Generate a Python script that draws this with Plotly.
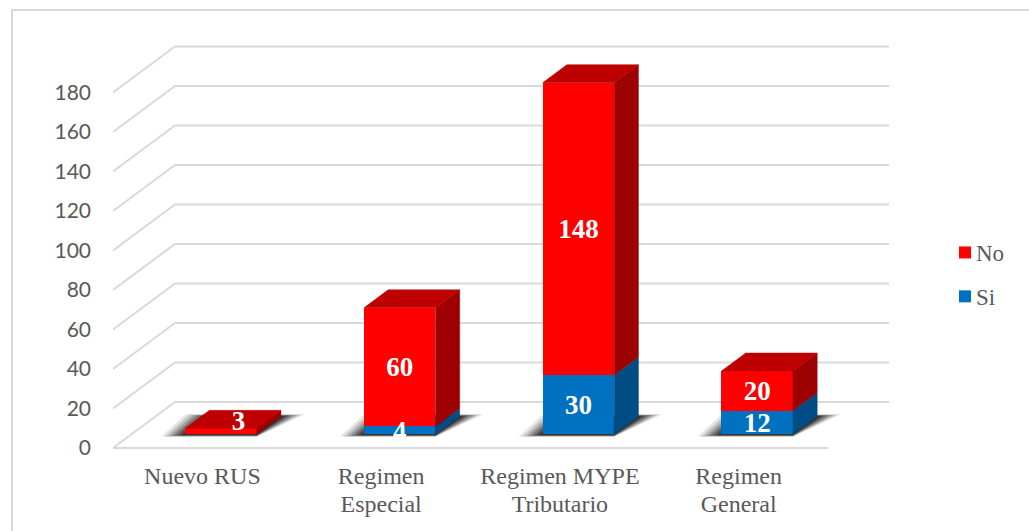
import plotly.graph_objects as go

# ---- data ----
categories = ["Nuevo RUS", "Regimen<br>Especial", "Regimen MYPE<br>Tributario", "Regimen<br>General"]
si_values = [0, 4, 30, 12]
no_values = [3, 60, 148, 20]
y_ticks = [0, 20, 40, 60, 80, 100, 120, 140, 160, 180]

# ---- scale helpers (pixels per data unit) ----
W, H = 1029, 531
L, R, T, B = 113, 889, 41, 452
Y0 = 448
PX = 178.75
PY = 1.975
DX = 62 / PX          # full floor depth in axis units
DY = 46 / PY
BAR_START, BAR_DEPTH = 0.3, 0.39
BAR_W = 0.4

GRID = "#D9D9D9"
TXT = "#595959"
RED, RED_TOP, RED_SIDE = "#FF0000", "#BE0000", "#9C0000"
BLUE, BLUE_TOP, BLUE_SIDE = "#0070C0", "#005A9A", "#004C84"

n = len(categories)
bx = [i + BAR_START * DX for i in range(n)]
base_y = BAR_START * DY
ddx, ddy = BAR_DEPTH * DX, BAR_DEPTH * DY


def path(points):
    return "M" + "L".join(f"{x},{y}" for x, y in points) + "Z"


def open_path(points):
    return "M" + "L".join(f"{x},{y}" for x, y in points)


shapes = []
# chart frame
shapes.append(dict(type="path", xref="paper", yref="paper", layer="below",
                   path=open_path([((12 - L) / (R - L), (B - 540) / (B - T)),
                                   ((12 - L) / (R - L), (B - 10) / (B - T)),
                                   ((1040 - L) / (R - L), (B - 10) / (B - T))]),
                   line=dict(color=GRID, width=2)))
# walls: side diagonal + back line for each tick
for v in y_ticks:
    shapes.append(dict(type="path", xref="x", yref="y", layer="below",
                       path=open_path([(-0.5, v), (-0.5 + DX, v + DY), (n - 0.5 + DX, v + DY)]),
                       line=dict(color=GRID, width=2)))
shapes.append(dict(type="path", xref="x", yref="y", layer="below",
                   path=open_path([(-0.5, 0), (n - 0.5, 0)]),
                   line=dict(color=GRID, width=2.2)))
# soft floor shadows, layered
for i in range(n):
    left = bx[i] - BAR_W / 2
    right = bx[i] + BAR_W / 2
    for w_px, alpha in [(24, 0.1), (20, 0.15), (16, 0.2), (12, 0.25), (8, 0.3), (4, 0.35)]:
        w = w_px / PX
        low = base_y - (0.6 + w_px / 12) / PY
        high = base_y + ddy + (w_px / 12) / PY
        shapes.append(dict(type="path", xref="x", yref="y", layer="below",
                           path=path([(left - w, low), (right, low),
                                      (right + ddx + w, high), (left + ddx - w, high)]),
                           fillcolor=f"rgba(0,0,0,{alpha})", line=dict(width=0)))

fig = go.Figure()

# front faces are real bars
fig.add_trace(go.Bar(name="No", x=bx, y=no_values,
                     base=[base_y + s for s in si_values], width=BAR_W,
                     marker=dict(color=RED, line=dict(width=0)),
                     legendgroup="no", hoverinfo="skip"))
fig.add_trace(go.Bar(name="Si", x=bx, y=si_values,
                     base=[base_y] * n, width=BAR_W,
                     marker=dict(color=BLUE, line=dict(width=0)),
                     legendgroup="si", hoverinfo="skip"))


def face(points, color):
    xs = [p[0] for p in points] + [points[0][0]]
    ys = [p[1] for p in points] + [points[0][1]]
    fig.add_trace(go.Scatter(x=xs, y=ys, mode="lines", fill="toself", fillcolor=color,
                             line=dict(width=0.5, color=color), showlegend=False,
                             hoverinfo="skip"))


# side and top faces
for i in range(n):
    rgt = bx[i] + BAR_W / 2
    lft = bx[i] - BAR_W / 2
    y1 = base_y + si_values[i]
    y2 = y1 + no_values[i]
    if si_values[i] > 0:
        face([(rgt, base_y), (rgt + ddx, base_y + ddy), (rgt + ddx, y1 + ddy), (rgt, y1)], BLUE_SIDE)
    face([(rgt, y1), (rgt + ddx, y1 + ddy), (rgt + ddx, y2 + ddy), (rgt, y2)], RED_SIDE)
    face([(lft, y2), (rgt, y2), (rgt + ddx, y2 + ddy), (lft + ddx, y2 + ddy)], RED_TOP)

# value labels
TEXT_DROP = 2.5 / PY
lab_x, lab_y, lab_t = [], [], []
for i in range(n):
    if si_values[i] > 0:
        lab_x.append(bx[i])
        lab_y.append(base_y + si_values[i] / 2 - TEXT_DROP)
        lab_t.append(str(si_values[i]))
    nudge_x = 17.5 / PX if i == 0 else 0
    nudge_y = 10 / PY if i == 0 else 0
    lab_x.append(bx[i] + nudge_x)
    lab_y.append(base_y + si_values[i] + no_values[i] / 2 + nudge_y - TEXT_DROP)
    lab_t.append(str(no_values[i]))
fig.add_trace(go.Scatter(x=lab_x, y=lab_y, text=lab_t, mode="text", showlegend=False,
                         textposition="middle center", cliponaxis=False, hoverinfo="skip",
                         textfont=dict(family="Liberation Serif", size=27, color="white",
                                       weight="bold")))

fig.update_layout(
    width=W, height=H, autosize=False,
    margin=dict(l=L, r=W - R, t=T, b=H - B, pad=0, autoexpand=False),
    paper_bgcolor="white", plot_bgcolor="rgba(0,0,0,0)",
    barmode="overlay", bargap=0, shapes=shapes, hovermode=False,
    showlegend=True,
    legend=dict(x=(945 - L) / (R - L), xanchor="left", y=(B - 274.5) / (B - T), yanchor="middle",
                font=dict(family="Liberation Serif", size=23, color=TXT),
                bgcolor="rgba(0,0,0,0)", tracegroupgap=11, itemclick=False, itemdoubleclick=False),
    xaxis=dict(range=[-0.5, (R - L) / PX - 0.5], tickmode="array",
               tickvals=list(range(n)), ticktext=categories, showgrid=False, zeroline=False,
               showline=False, ticks="", ticklabelstandoff=7,
               tickfont=dict(family="Liberation Serif", size=24, color=TXT)),
    yaxis=dict(range=[-(B - Y0) / PY, (Y0 - T) / PY], tickmode="array",
               tickvals=y_ticks, showgrid=False, zeroline=False, showline=False, ticks="",
               ticklabelstandoff=21,
               tickfont=dict(family="Lato", size=21, color=TXT)),
)

post = """
document.body.style.margin='0';document.body.style.overflow='hidden';
setTimeout(function(){
  document.querySelectorAll('.legendtext').forEach(function(t){
    t.setAttribute('x', parseFloat(t.getAttribute('x')) - 9);
  });
  document.querySelectorAll('.xtick text tspan.line').forEach(function(s){
    var dy = parseFloat(s.getAttribute('dy') || '0');
    if (dy > 0) { s.setAttribute('dy', '1.17em'); }
  });
}, 60);
"""
fig.write_html("out.html", post_script=post, config=dict(displayModeBar=False))
